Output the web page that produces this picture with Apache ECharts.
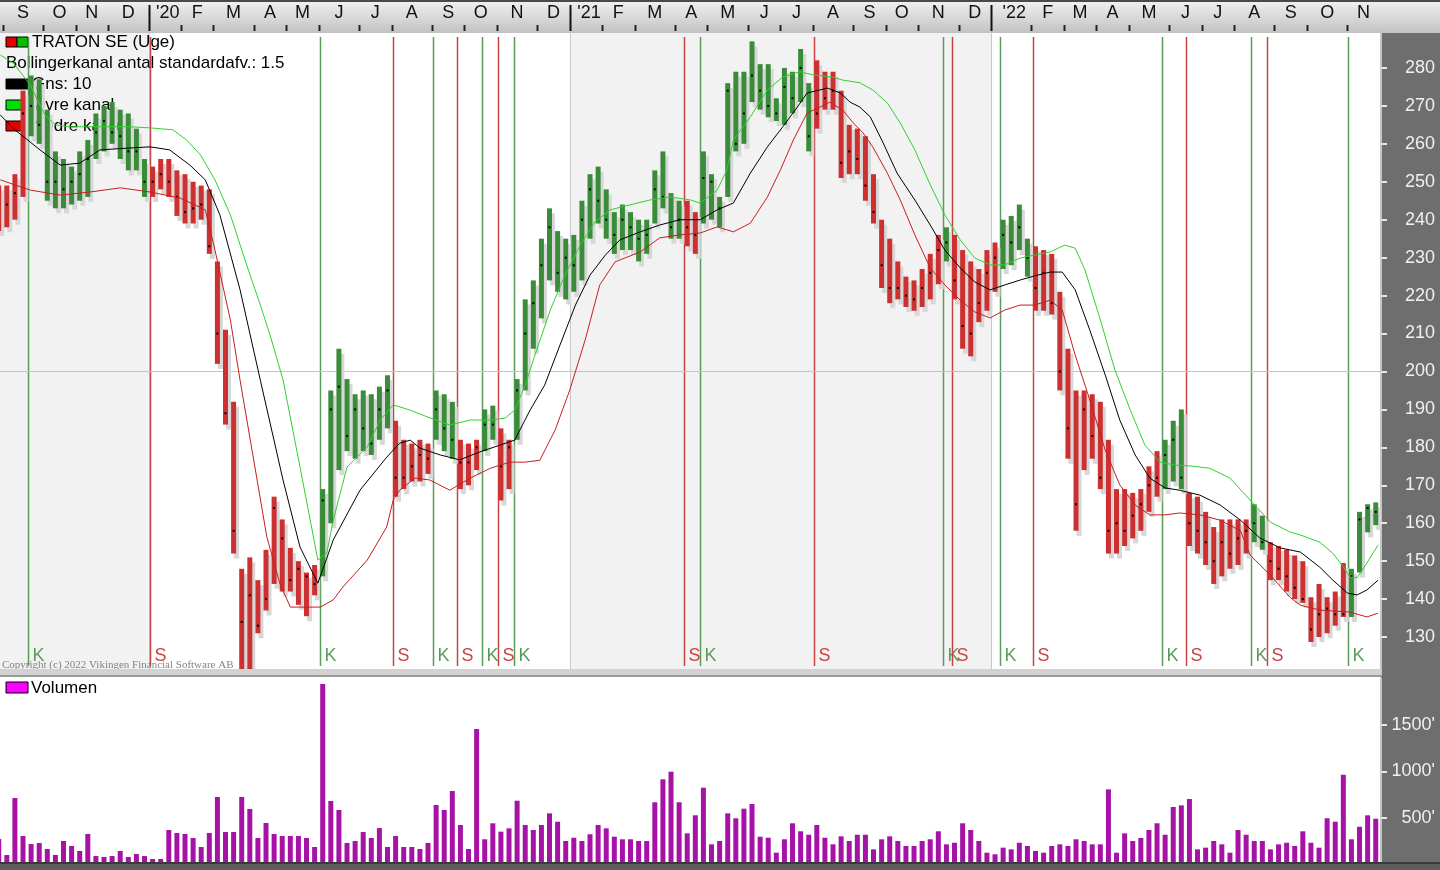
<!DOCTYPE html>
<html><head><meta charset="utf-8">
<script src="https://cdn.jsdelivr.net/npm/echarts@6/dist/echarts.min.js"></script>
<style>html,body{margin:0;padding:0;background:#6e6e6e;overflow:hidden}#c{width:1440px;height:870px}</style>
</head><body><div id="c"></div>
<script>
// ---------- DATA ----------
const firstWeek = '2019-08-26';           // Monday of the first weekly bar
const monthLetters = ['J','F','M','A','M','J','J','A','S','O','N','D'];
const priceTicks = [130,140,150,160,170,180,190,200,210,220,230,240,250,260,270,280];
const volumeTicks = [500,1000,1500];

const high = [249,249,252,274,278,277,269,258,256,254,258,261,268,270,271,269,268,264,256,
254,256,256,253,252,250,249,248,229,211,192,148,151,145,153,167,161,153.5,150,147,149,
169,195,206,198,194,195,194,196,199,
187,182,181,182,181, 195,194,192, 182,181,182, 190,191, 185,182,
198,219,224,235,243,237,235,236,245,252,254,248,242,244,242,240,240,253,258,247,245,
245,242,
258,252,246,276,279,279,287,281,281,272,280,279,285,276,
282,279,279,274,265,264,262,252,240,235,229,225,224,227,231,236,
238,
236,232,229,227,232,234,
240,241,244,235,
233,232,231,221,206,195,195,194,192,182,169,169,168,169,175,179,
182,187,190,
168,167,163,159,161,161,161,161,
165,162,
155,154,153,151.5,150,140.5,144,140.5,142,149.5,
148,163,165,165.5];
const low = [237,238,240,246,262,260,245,243,243,244,245,246,256,258,260,256,253,253,246,
246,248,246,241,239,239,240,231,202,186,152,118,118,131,137,144,142,142,138.5,135.5,141,
146,160,174,179,177,179,178,182,185,
167,169,171,171,173, 182,179,177, 169,170,174, 179,182, 166,169,
182,195,206,214,224,221,219,221,224,235,239,235,231,232,232,229,231,239,243,235,235,
233,231,
239,240,238,246,258,260,271,269,267,266,265,268,271,258,
264,269,269,251,252,252,245,239,222,218,219,217,216,217,219,223,
229,
219,206,204,213,216,221,
227,228,232,225,
216,216,215,195,177,158,174,177,169,152,152,154,156,158,163,167,
169,171,169,
154,152,149,144,146,148,149,152,
155,153,
145,145,142,140,139,128.7,130,131,133,135.3,
135.3,147,157.6,159.5];
const close = [241,244,247,268,270,265,250,250,248,250,252,256,263,266,263,262,258,258,250,
250,252,250,246,242,243,244,233,210,189,158,134,141,133,140,164,156,145,148,146,144,
166,190,196,183,190,185,181,190,195,
172,172,175,178,177, 190,185,182, 176,176,180, 186,186, 175,180,
195,210,218,228,238,226,230,228,240,248,245,240,236,240,238,235,236,248,246,238,240,
238,236,
251,250,243,274,260,268,278,274,270,268,275,272,280,262,
268,272,274,255,258,256,249,242,228,222,222,220,219,222,226,232,
234,
224,212,210,218,226,230,
236,234,238,230,
222,226,218,200,185,165,190,183,172,158,160,158,162,165,170,172,
178,182,172,
160,158,155,150,155,152,156,158,
160,155,
150,148,146,143,140,132,136,137.5,136,136,
146,161,164,163];
// weekly volume in thousands
const volume = [274,102,715,306,220,231,167,102,253,199,
145,328,91,81,91,145,81,113,91,59,
59,371,339,328,285,188,339,726,349,349,
726,597,285,446,328,306,306,306,285,188,
1940,683,586,231,253,349,285,392,188,306,
188,188,167,231,640,586,790,425,167,1457,
271,443,353,389,686,425,371,425,550,460,
253,288,253,325,425,389,299,271,271,253,
253,669,916,998,669,335,529,826,217,253,
550,497,600,650,299,288,127,271,443,357,
320,425,288,217,303,253,320,320,163,271,
303,253,199,199,253,271,357,217,234,443,
371,253,127,110,181,163,234,199,145,127,
199,217,199,271,253,217,217,808,127,335,
253,285,371,443,320,618,636,704,163,181,
253,217,127,371,320,253,253,163,217,234,
199,357,234,181,497,460,965,271,406,529,
492];
// Bollinger channel: [week index, value]
const upperBand = [[0.2,283.4],[1.8,281.3],[3.9,275.5],[5.7,267.6],[7.0,265.0],[8.8,264.5],[12.5,264.5],[16.2,264.5],[18.7,264.2],[21.5,263.7],[23.2,261.0],[24.9,257.1],[26.7,250.5],[28.6,241.3],[30.4,229.4],[32.3,217.5],[33.5,209.6],[35.1,197.8],[37.2,174.8],[39.4,150.3],[40.5,152.1],[41.3,160.8],[43.0,174.8],[45.5,180.1],[47.1,187.2],[48.7,191.2],[50.8,189.8],[53.3,187.7],[55.7,185.9],[58.2,187.2],[60.7,187.2],[62.5,187.7],[63.7,189.8],[65.0,196.4],[66.2,204.3],[68.1,216.2],[69.9,225.4],[71.8,233.3],[73.6,239.4],[75.5,242.6],[77.9,243.9],[80.4,245.2],[82.9,246.0],[85.4,245.2],[86.6,244.4],[88.7,247.8],[89.9,253.1],[90.7,261.0],[92.8,267.1],[94.9,274.2],[96.8,277.6],[98.9,279.0],[100.5,278.2],[103.0,277.6],[104.2,276.8],[106.3,276.1],[107.9,274.2],[109.7,270.8],[111.3,265.5],[113.1,258.4],[115.0,249.2],[116.8,241.3],[118.7,234.7],[120.5,229.9],[122.4,228.1],[124.2,228.1],[126.1,229.9],[127.9,230.7],[129.8,231.5],[131.6,233.3],[132.9,232.5],[134.1,226.8],[136.0,213.6],[137.8,200.4],[139.7,189.8],[141.5,180.6],[143.4,176.1],[145.2,175.3],[147.1,175.1],[149.5,174.5],[152.0,171.9],[154.5,166.1],[157.0,160.3],[159.4,157.7],[160.7,156.9],[163.1,155.0],[164.7,152.1],[166.0,148.5],[166.8,145.8],[167.7,145.6],[168.9,149.5],[170.3,154.3]];
const middleBand = [[0.2,267.6],[2.0,263.7],[5.1,258.4],[7.6,254.4],[10.0,254.9],[12.5,258.4],[16.2,258.9],[18.7,259.2],[21.1,258.4],[23.6,254.4],[25.5,250.5],[27.3,241.3],[29.8,221.5],[32.3,197.7],[35.1,171.4],[37.2,153.7],[39.4,144.2],[41.3,155.6],[44.6,168.7],[47.9,177.4],[49.5,181.1],[50.8,181.9],[52.0,179.8],[54.5,178.0],[56.9,176.7],[59.4,178.8],[61.9,180.6],[63.7,181.9],[65.6,189.8],[67.4,196.4],[69.3,207.0],[71.2,217.5],[73.0,225.4],[74.9,230.7],[76.7,234.7],[79.2,236.8],[81.6,238.6],[84.1,240.0],[86.6,240.0],[88.7,242.6],[90.7,244.4],[92.8,252.3],[94.9,259.2],[96.8,264.5],[98.6,269.7],[99.8,273.4],[101.4,274.2],[102.3,274.7],[103.9,273.4],[105.1,271.0],[106.3,269.7],[107.6,267.1],[109.2,260.2],[110.9,252.3],[113.1,245.2],[115.0,238.6],[116.8,232.0],[118.7,227.3],[120.5,223.6],[122.4,221.5],[124.2,222.8],[126.1,224.1],[127.9,225.2],[129.8,226.2],[131.3,226.2],[132.9,221.5],[134.7,210.9],[136.6,199.1],[138.4,187.2],[140.3,178.0],[142.1,171.9],[144.0,169.3],[145.8,168.7],[148.3,167.4],[150.8,164.8],[153.3,160.8],[155.7,156.1],[158.2,153.5],[160.7,152.4],[163.1,148.4],[164.7,145.0],[166.5,141.6],[167.7,141.1],[168.9,142.4],[170.3,145.0]];
const lowerBand = [[0.2,250.5],[3.9,247.8],[7.6,246.5],[11.3,247.3],[15.0,248.4],[18.7,247.3],[22.4,245.7],[25.5,242.6],[26.7,232.0],[28.6,213.6],[29.8,197.7],[33.1,156.4],[34.7,144.2],[36.0,137.9],[39.7,137.9],[41.3,139.8],[42.5,143.2],[45.5,150.3],[47.9,159.0],[48.7,166.1],[49.5,168.7],[51.4,171.9],[53.2,171.4],[55.7,168.7],[58.2,171.9],[60.7,174.5],[63.1,176.1],[65.0,176.1],[66.8,176.6],[68.7,184.6],[70.5,195.1],[72.4,208.3],[74.2,222.8],[76.1,228.9],[79.2,231.5],[81.6,235.2],[84.1,236.0],[86.6,236.5],[88.7,238.1],[90.7,236.8],[92.8,239.1],[94.9,246.0],[96.5,253.1],[98.1,261.0],[99.8,268.1],[101.4,269.7],[102.6,271.0],[104.2,268.9],[105.5,265.5],[106.7,262.9],[107.9,259.2],[109.7,252.3],[111.3,245.2],[113.1,236.0],[115.0,227.3],[116.8,222.8],[118.7,218.8],[120.5,215.7],[122.4,214.1],[124.2,216.2],[126.1,217.5],[127.9,217.5],[129.8,218.8],[131.3,216.2],[132.9,204.3],[134.7,192.5],[136.6,179.3],[138.4,170.1],[140.3,164.8],[142.1,162.2],[144.0,162.2],[145.8,162.7],[148.3,162.2],[150.8,160.8],[153.3,158.0],[154.5,151.6],[157.0,146.3],[159.4,140.5],[160.7,138.4],[163.1,137.1],[166.8,136.6],[168.9,135.3],[170.3,136.3]];
// trading signals: [week index, K = buy / S = sell]
const signals = [[4,'K'],[19,'S'],[40,'K'],[49,'S'],[54,'K'],[57,'S'],[60,'K'],[62,'S'],[64,'K'],[85,'S'],[87,'K'],[101,'S'],[117,'K'],[118,'S'],[124,'K'],[128,'S'],[144,'K'],[147,'S'],[155,'K'],[157,'S'],[167,'K']];

// ---------- DERIVED ----------
const N = high.length;
const t0 = Date.parse(firstWeek + 'T00:00:00Z');
const weekDate = i => new Date(t0 + i * 7 * 86400000);
const bounds = [];
for (let i = 1; i <= N; i++) {
  const a = weekDate(i - 1), b = weekDate(i);
  if (a.getUTCMonth() !== b.getUTCMonth()) bounds.push({pos: i - 0.5, y: b.getUTCFullYear(), m: b.getUTCMonth()});
}
const monthSpans = [];
for (let k = 0; k < bounds.length - 1; k++) {
  const b = bounds[k];
  monthSpans.push([b.pos, bounds[k + 1].pos, b.m === 0 ? "'" + String(b.y).slice(2) : monthLetters[b.m], b.m === 0 ? 1 : 0]);
}
const yearBounds = bounds.filter(b => b.m === 0);
const shadeSpans = [];
{
  const edges = [{pos: -1, y: yearBounds[0].y - 1}].concat(yearBounds).concat([{pos: N + 1, y: 0}]);
  for (let k = 0; k < edges.length - 1; k++) if (edges[k].y % 2 === 1) shadeSpans.push([edges[k].pos, edges[k + 1].pos]);
}
function regime(i) {
  let r = 'S';
  for (const s of signals) if (s[0] <= i) r = s[1];
  return r;
}
const GREEN = '#3a8c3a', RED = '#cc3030';
const barData = high.map((h, i) => [i, h, low[i], close[i]]);
const volData = volume.map((v, i) => [i, v]);

// ---------- CHART ----------
const chart = echarts.init(document.getElementById('c'), null, {renderer: 'canvas'});
const PT = 33, PB = 669; // main panel pixel extent
const FONT = 'Liberation Sans, Arial, sans-serif';

const option = {
  backgroundColor: '#6e6e6e',
  animation: false,
  graphic: [
    {type: 'rect', z: 0, shape: {x: 0, y: 0, width: 1440, height: 33}, style: {fill: new echarts.graphic.LinearGradient(0, 0, 0, 1, [{offset: 0, color: '#f2f2f2'}, {offset: 1, color: '#c2c2c2'}])}},
    {type: 'rect', z: 0, shape: {x: 0, y: 0, width: 1440, height: 2}, style: {fill: '#4a4a4a'}},
    {type: 'rect', z: 0, shape: {x: 0, y: PT, width: 1381, height: PB - PT}, style: {fill: '#ffffff'}},
    {type: 'rect', z: 0, shape: {x: 0, y: 677, width: 1381, height: 186}, style: {fill: '#ffffff'}},
    {type: 'rect', z: 50, shape: {x: 0, y: PB, width: 1381, height: 8}, style: {fill: '#d2d2d2'}},
    {type: 'rect', z: 50, shape: {x: 0, y: 675, width: 1381, height: 2}, style: {fill: '#9a9a9a'}},
    {type: 'rect', z: 50, shape: {x: 0, y: 862, width: 1440, height: 8}, style: {fill: '#5c5c5c'}},
    {type: 'rect', z: 50, shape: {x: 0, y: 862, width: 1440, height: 2}, style: {fill: '#3a3a3a'}},
    // legend (above shading, below signals and bars)
    {type: 'rect', z: 2, shape: {x: 6, y: 37, width: 11, height: 10}, style: {fill: '#e00000', stroke: '#000', lineWidth: 1}},
    {type: 'rect', z: 2, shape: {x: 17, y: 37, width: 11, height: 10}, style: {fill: '#00c000', stroke: '#000', lineWidth: 1}},
    {type: 'text', z: 2, style: {x: 32, y: 42, text: 'TRATON SE (Uge)', font: '17px ' + FONT, fill: '#000', verticalAlign: 'middle'}},
    {type: 'text', z: 2, style: {x: 6, y: 63, text: 'Bollingerkanal antal standardafv.: 1.5', font: '17px ' + FONT, fill: '#000', verticalAlign: 'middle'}},
    {type: 'rect', z: 2, shape: {x: 6, y: 79, width: 22, height: 10}, style: {fill: '#000', stroke: '#000', lineWidth: 1}},
    {type: 'text', z: 2, style: {x: 32, y: 84, text: 'Gns: 10', font: '17px ' + FONT, fill: '#000', verticalAlign: 'middle'}},
    {type: 'rect', z: 2, shape: {x: 6, y: 100, width: 22, height: 10}, style: {fill: '#00e000', stroke: '#000', lineWidth: 1}},
    {type: 'text', z: 2, style: {x: 32, y: 105, text: 'Øvre kanal', font: '17px ' + FONT, fill: '#000', verticalAlign: 'middle'}},
    {type: 'rect', z: 2, shape: {x: 6, y: 121, width: 22, height: 10}, style: {fill: '#e00000', stroke: '#000', lineWidth: 1}},
    {type: 'text', z: 2, style: {x: 32, y: 126, text: 'Nedre kanal', font: '17px ' + FONT, fill: '#000', verticalAlign: 'middle'}},
    {type: 'text', z: 30, style: {x: 2, y: 665, text: 'Copyright (c) 2022 Vikingen Financial Software AB', font: '11px Liberation Serif, serif', fill: 'rgba(90,90,90,0.75)', verticalAlign: 'middle'}},
    {type: 'rect', z: 51, shape: {x: 6, y: 682, width: 22, height: 11}, style: {fill: '#ff00ff', stroke: '#000', lineWidth: 1}},
    {type: 'text', z: 51, style: {x: 31, y: 688, text: 'Volumen', font: '17px ' + FONT, fill: '#000', verticalAlign: 'middle'}}
  ],
  grid: [
    {left: 0, right: 59, top: 30, height: 645},
    {left: 0, right: 59, top: 678.5, height: 186}
  ],
  xAxis: [
    {type: 'value', gridIndex: 0, min: 0.16, max: 170.65, show: false},
    {type: 'value', gridIndex: 1, min: 0.16, max: 170.65, show: false}
  ],
  yAxis: [
    {type: 'value', gridIndex: 0, position: 'right', min: 120, max: 290, splitLine: {show: false},
      axisLine: {show: true, lineStyle: {color: '#c4c4c4', width: 2}},
      axisTick: {show: true, length: 6, lineStyle: {color: '#e6e6e6', width: 2}, customValues: priceTicks},
      axisLabel: {customValues: priceTicks, color: '#f0f0f0', fontSize: 18, fontFamily: FONT, align: 'right', margin: 54}},
    {type: 'value', gridIndex: 1, position: 'right', min: 0, max: 2000, splitLine: {show: false},
      axisLine: {show: true, lineStyle: {color: '#c4c4c4', width: 2}},
      axisTick: {show: true, length: 6, lineStyle: {color: '#e6e6e6', width: 2}, customValues: volumeTicks},
      axisLabel: {customValues: volumeTicks, color: '#f0f0f0', fontSize: 18, fontFamily: FONT, align: 'right', margin: 54, formatter: v => v + "'"}}
  ],
  series: [
    { // year shading
      type: 'custom', xAxisIndex: 0, yAxisIndex: 0, z: 1, clip: true, silent: true,
      data: shadeSpans,
      encode: {x: [0, 1]},
      renderItem: (p, api) => {
        const x0 = api.coord([api.value(0), 200])[0], x1 = api.coord([api.value(1), 200])[0];
        return {type: 'rect', shape: {x: x0, y: PT, width: x1 - x0, height: PB - PT}, style: {fill: '#f2f2f2'}};
      },
      markLine: {silent: true, symbol: ['none', 'none'], label: {show: false}, lineStyle: {color: '#c4c4c4', type: 'solid', width: 1}, data: [{yAxis: 200}]}
    },
    { // year boundary lines in panel
      type: 'custom', xAxisIndex: 0, yAxisIndex: 0, z: 1, clip: true, silent: true,
      data: yearBounds.map(b => [b.pos]),
      encode: {x: 0},
      renderItem: (p, api) => {
        const x = Math.round(api.coord([api.value(0), 200])[0]) + 0.5;
        return {type: 'line', shape: {x1: x, y1: PT, x2: x, y2: PB}, style: {stroke: '#c8c8c8', lineWidth: 1}};
      }
    },
    { // month axis on top
      type: 'custom', xAxisIndex: 0, yAxisIndex: 0, z: 3, clip: false, silent: true,
      data: monthSpans.map(s => [s[0], s[1]]),
      encode: {x: [0, 1]},
      renderItem: (p, api) => {
        const s = monthSpans[p.dataIndex];
        const x0 = api.coord([s[0], 200])[0], x1 = api.coord([s[1], 200])[0];
        const ch = [{type: 'text', style: {x: (x0 + x1) / 2 + (s[3] ? 3 : 0), y: 13, text: s[2], font: '18px ' + FONT, fill: '#111', align: 'center', verticalAlign: 'middle'}}];
        if (x0 > 0 && x0 < 1381) {
          const xs = Math.round(x0) + 0.5;
          ch.push(s[3] ? {type: 'line', shape: {x1: xs, y1: 5, x2: xs, y2: 31}, style: {stroke: '#111', lineWidth: 2}}
                       : {type: 'line', shape: {x1: xs, y1: 25, x2: xs, y2: 31}, style: {stroke: '#222', lineWidth: 2}});
        }
        return {type: 'group', children: ch};
      }
    },
    { // signal lines
      type: 'custom', xAxisIndex: 0, yAxisIndex: 0, z: 3, clip: true, silent: true,
      data: signals.map(s => [s[0]]),
      encode: {x: 0},
      renderItem: (p, api) => {
        const t = signals[p.dataIndex][1];
        const x = Math.round(api.coord([api.value(0), 200])[0]) - 3 + 0.5;
        const c = t === 'K' ? '#5a9c5a' : '#c84444';
        return {type: 'group', children: [
          {type: 'line', shape: {x1: x, y1: 37, x2: x, y2: 666}, style: {stroke: c, lineWidth: 1.5}},
          {type: 'text', style: {x: x + 4, y: 656, text: t, font: '18px ' + FONT, fill: c, verticalAlign: 'middle'}}
        ]};
      }
    },
    { // price bars
      type: 'custom', xAxisIndex: 0, yAxisIndex: 0, z: 5, clip: true,
      data: barData,
      encode: {x: 0, y: [1, 2, 3]},
      renderItem: (p, api) => {
        const i = api.value(0);
        const pH = api.coord([i, api.value(1)]), pL = api.coord([i, api.value(2)]), pC = api.coord([i, api.value(3)]);
        const w = 5, x = pH[0] - w / 2, h = Math.max(pL[1] - pH[1], 1);
        const col = regime(i) === 'K' ? GREEN : RED;
        return {type: 'group', children: [
          {type: 'rect', shape: {x: x + 3, y: pH[1] + 5, width: w, height: h}, style: {fill: '#d7d7d7'}},
          {type: 'rect', shape: {x: x, y: pH[1], width: w, height: h}, style: {fill: col}},
          {type: 'rect', shape: {x: pC[0] - 1, y: pC[1] - 1, width: 2, height: 2}, style: {fill: '#000'}}
        ]};
      }
    },
    {type: 'line', name: 'Øvre kanal', xAxisIndex: 0, yAxisIndex: 0, z: 6, data: upperBand, symbol: 'none', smooth: false, lineStyle: {color: '#2ed12e', width: 1}},
    {type: 'line', name: 'Gns', xAxisIndex: 0, yAxisIndex: 0, z: 6, data: middleBand, symbol: 'none', smooth: false, lineStyle: {color: '#000', width: 1}},
    {type: 'line', name: 'Nedre kanal', xAxisIndex: 0, yAxisIndex: 0, z: 6, data: lowerBand, symbol: 'none', smooth: false, lineStyle: {color: '#c81e1e', width: 1}},
    {type: 'bar', name: 'Volumen', xAxisIndex: 1, yAxisIndex: 1, z: 5, data: volData, barWidth: 5, itemStyle: {color: '#a512a5'}}
  ]
};
chart.setOption(option);
</script></body></html>
